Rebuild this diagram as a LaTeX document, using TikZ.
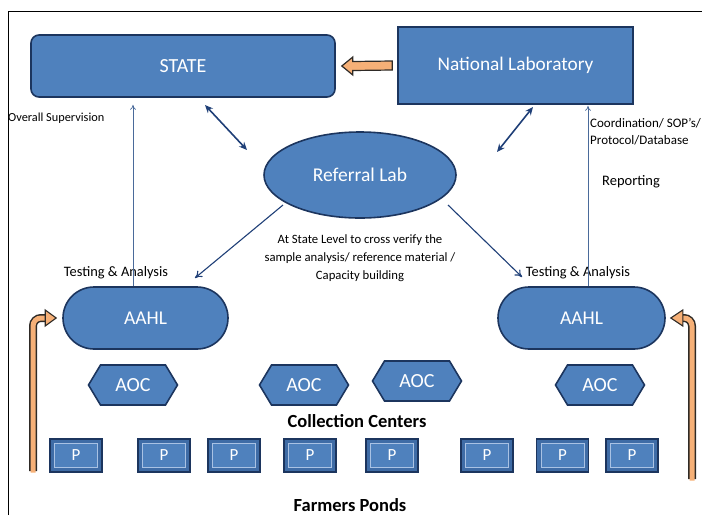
\documentclass[tikz,border=0pt]{standalone}
\usepackage{fontspec}
\setmainfont{Carlito}
\usetikzlibrary{shapes.geometric,shapes.symbols,shapes.misc,calc,arrows.meta}
\definecolor{boxblue}{HTML}{4F81BD}
\definecolor{boxline}{HTML}{1C355E}
\definecolor{navyarrow}{HTML}{1F3F77}
\definecolor{thinline}{HTML}{4A6A9A}
\definecolor{orangefill}{HTML}{F6B077}
\definecolor{orangeline}{HTML}{2E2A26}
\definecolor{bevel}{HTML}{A9C2E4}
\definecolor{ring}{HTML}{3F6CA6}
\tikzset{
  bluebox/.style={draw=boxline, line width=1.6pt, fill=boxblue, text=white, inner sep=0pt},
  aocbox/.style={bluebox, signal, signal to=east and west, signal pointer angle=118, minimum width=89, minimum height=40, font=\fontsize{20}{22}\selectfont},
  pbox/.style={draw=boxline, line width=1.6pt, fill=ring, text=white, minimum width=52, minimum height=33, inner sep=0pt, font=\fontsize{17}{18}\selectfont,
    path picture={\draw[bevel, fill=boxblue, line width=0.8pt] ($(path picture bounding box.south west)+(4.5,-4.5)$) rectangle ($(path picture bounding box.north east)+(-4.5,4.5)$);}},
  dblarrow/.style={navyarrow, line width=1.6pt, {Stealth[length=8pt,width=7pt]}-{Stealth[length=8pt,width=7pt]}},
  thinarrow/.style={thinline, line width=0.7pt, -{To[length=5pt,width=6pt]}},
  refarrow/.style={navyarrow, line width=1.1pt, -{To[length=7pt,width=8pt]}},
  lbl/.style={inner sep=0pt, text=black},
}
\begin{document}
\begin{tikzpicture}[x=1pt,y=-1pt]
\useasboundingbox (0,0) rectangle (702,515);
% frame
\draw[black, line width=0.9pt] (8,515) -- (8,11) -- (702,11);

% main nodes
\node[bluebox, rounded corners=8pt, minimum width=304, minimum height=62, font=\fontsize{20}{22}\selectfont] (state) at (183,66) {STATE};
\node[bluebox, minimum width=235, minimum height=77, font=\fontsize{19.3}{21}\selectfont] (natlab) at (515.5,65.5) {National Laboratory};
\node[bluebox, ellipse, minimum width=192, minimum height=86, font=\fontsize{19.5}{21}\selectfont] (ref) at (360,175) {Referral Lab};
\node[bluebox, rounded rectangle, minimum width=165, minimum height=62, font=\fontsize{19.5}{21}\selectfont] (aahlL) at (145.5,318) {AAHL};
\node[bluebox, rounded rectangle, minimum width=167, minimum height=62, font=\fontsize{19.5}{21}\selectfont] (aahlR) at (581.5,318) {AAHL};

% AOC
\node[aocbox] (aoc1) at (133,385) {AOC};
\node[aocbox] (aoc2) at (304,385) {AOC};
\node[aocbox] (aoc3) at (417,381) {AOC};
\node[aocbox] (aoc4) at (600,385) {AOC};

% ponds
\node[pbox] (p1) at (76,455.5) {P};
\node[pbox] (p2) at (164,455.5) {P};
\node[pbox] (p3) at (234,455.5) {P};
\node[pbox] (p4) at (310,455.5) {P};
\node[pbox] (p5) at (392,455.5) {P};
\node[pbox] (p6) at (487,455.5) {P};
\node[pbox] (p7) at (562.5,455.5) {P};
\node[pbox] (p8) at (632,455.5) {P};

% labels
\node[lbl, anchor=west, font=\fontsize{12.3}{14}\selectfont] (lsup) at (8,118) {Overall Supervision};
\node[lbl, anchor=north west, align=left, font=\fontsize{13}{17}\selectfont] (lcoord) at (590,118) {Coordination/ SOP's/\\Protocol/Database};
\node[lbl, anchor=west, font=\fontsize{14.5}{16}\selectfont] (lrep) at (602,182) {Reporting};
\node[lbl, font=\fontsize{14.4}{16}\selectfont] (ltestL) at (116,273) {Testing \& Analysis};
\node[lbl, font=\fontsize{14.4}{16}\selectfont] (ltestR) at (578,273) {Testing \& Analysis};
\node[lbl, align=center, font=\fontsize{12.7}{18}\selectfont] (lstate) at (360,258) {At State Level to cross verify the\\sample analysis/ reference material /\\Capacity building};
\node[lbl, font=\bfseries\fontsize{18.5}{20}\selectfont] (lcoll) at (357,421) {Collection Centers};
\node[lbl, font=\bfseries\fontsize{18.5}{20}\selectfont] (lfarm) at (350,505) {Farmers Ponds};

% double arrows
\coordinate (sa) at (205,105);
\coordinate (sb) at (247,150);
\coordinate (na) at (533,107);
\coordinate (nb) at (497,152);
\draw[dblarrow] (sa) -- (sb);
\draw[dblarrow] (na) -- (nb);

% referral to AAHL
\coordinate (ra) at (283,205);
\coordinate (rb) at (195,278);
\coordinate (rc) at (448,205);
\coordinate (rd) at (522,277);
\draw[refarrow] (ra) -- (rb);
\draw[refarrow] (rc) -- (rd);

% thin upward arrows
\draw[thinarrow] ([xshift=-12.5pt]aahlL.north) -- ([xshift=-50pt,yshift=-7pt]state.south);
\draw[thinarrow] ([xshift=6.5pt]aahlR.north) -- ([xshift=72.5pt,yshift=-1pt]natlab.south);

% orange horizontal arrow natlab -> state
\draw[orangeline, fill=orangefill, line width=1.2pt, line join=miter]
  ($(natlab.west)+(-5,-4.5)$) -- ($(state.east)+(17,-4.5)$) -- ($(state.east)+(17,-9)$) -- ($(state.east)+(6,0)$)
  -- ($(state.east)+(17,9)$) -- ($(state.east)+(17,4.5)$) -- ($(natlab.west)+(-5,4.5)$) -- cycle;

% orange bent arrows
\coordinate (obL) at (33,471);
\coordinate (obR) at (692,479);
\draw[orangeline, line width=8pt, rounded corners=8pt] (obL) -- (33,318) -- ([xshift=-15pt]aahlL.west);
\draw[orangefill, line width=5pt, rounded corners=8pt] ([yshift=-1.5pt]obL) -- (33,318) -- ([xshift=-15pt]aahlL.west);
\draw[orangeline, fill=orangefill, line width=1.1pt] ([xshift=-17pt,yshift=-8pt]aahlL.west) -- ([xshift=-6pt]aahlL.west) -- ([xshift=-17pt,yshift=8pt]aahlL.west) -- cycle;

\draw[orangeline, line width=8pt, rounded corners=8pt] (obR) -- (692,318) -- ([xshift=15pt]aahlR.east);
\draw[orangefill, line width=5pt, rounded corners=8pt] ([yshift=-1.5pt]obR) -- (692,318) -- ([xshift=15pt]aahlR.east);
\draw[orangeline, fill=orangefill, line width=1.1pt] ([xshift=17pt,yshift=-8pt]aahlR.east) -- ([xshift=5pt]aahlR.east) -- ([xshift=17pt,yshift=8pt]aahlR.east) -- cycle;
\end{tikzpicture}
\end{document}
